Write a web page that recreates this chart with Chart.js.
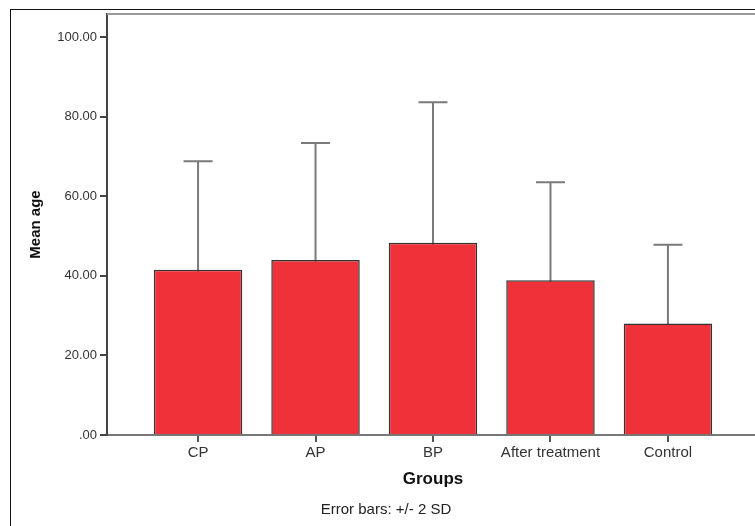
<!DOCTYPE html>
<html>
<head>
<meta charset="utf-8">
<script src="https://cdn.jsdelivr.net/npm/chart.js@4"></script>
<style>
  html, body { margin: 0; padding: 0; background: #fff; overflow: hidden; }
  #wrap { width: 770px; height: 526px; }
</style>
</head>
<body>
<div id="wrap"><canvas id="meanChart" width="770" height="526"></canvas></div>
<script>
// values
const categories = ['CP', 'AP', 'BP', 'After treatment', 'Control'];
const meanAge = [41.5, 44.0, 48.3, 38.9, 28.0];
const twoSD = [27.3, 29.4, 35.3, 24.6, 19.8];
const yTicks = [0, 20, 40, 60, 80, 100];

const FONT = 'Arial, "Liberation Sans", sans-serif';
const barRed = '#ef3139';

// draws the +/- 2 SD bars behind the columns, the top plot border and outer frame
const extras = {
  id: 'extras',
  beforeDatasetsDraw(chart) {
    const { ctx, scales: { x, y } } = chart;
    ctx.save();
    ctx.strokeStyle = '#7a7a7a';
    ctx.lineWidth = 2;
    meanAge.forEach((m, i) => {
      const px = x.getPixelForValue(i);
      const hi = y.getPixelForValue(m + twoSD[i]);
      const lo = y.getPixelForValue(m - twoSD[i]);
      ctx.beginPath();
      ctx.moveTo(px, lo); ctx.lineTo(px, hi);
      ctx.moveTo(px - 14.5, hi); ctx.lineTo(px + 14.5, hi);
      ctx.moveTo(px - 14.5, lo); ctx.lineTo(px + 14.5, lo);
      ctx.stroke();
    });
    ctx.restore();
  },
  afterDraw(chart) {
    const { ctx, chartArea: a } = chart;
    ctx.save();
    ctx.strokeStyle = '#999';
    ctx.lineWidth = 2;
    ctx.beginPath();
    ctx.moveTo(a.left, a.top); ctx.lineTo(a.right, a.top);
    ctx.stroke();
    ctx.strokeStyle = '#111';
    ctx.lineWidth = 1;
    ctx.strokeRect(10.5, 9.5, chart.width + 20, chart.height + 20);
    ctx.fillStyle = '#222';
    ctx.font = '15px ' + FONT;
    ctx.textAlign = 'center';
    ctx.textBaseline = 'middle';
    ctx.fillText('Error bars: +/- 2 SD', (a.left + a.right) / 2 - 47, 510);
    ctx.restore();
  }
};

new Chart(document.getElementById('meanChart'), {
  type: 'bar',
  data: {
    datasets: [{
      data: meanAge.map((m, i) => ({ x: i, y: m })),
      backgroundColor: barRed,
      borderColor: '#333',
      borderWidth: 1.5,
      barPercentage: 0.753,
      categoryPercentage: 1
    }]
  },
  options: {
    responsive: false,
    animation: false,
    layout: { padding: { top: 14, right: 11, left: 0, bottom: 0 } },
    plugins: { legend: { display: false }, tooltip: { enabled: false } },
    scales: {
      x: {
        type: 'linear',
        offset: false,
        min: -0.775,
        max: 4.775,
        afterBuildTicks: s => { s.ticks = categories.map((c, i) => ({ value: i })); },
        afterFit: s => { s.height = 91; },
        grid: { offset: false, drawOnChartArea: false, drawTicks: true, tickLength: 7, color: '#555', lineWidth: 2 },
        border: { display: true, color: '#777', width: 2 },
        ticks: {
          autoSkip: false, maxRotation: 0, padding: 2, color: '#333',
          font: { family: FONT, size: 15 },
          callback: v => categories[v]
        },
        title: {
          display: true, text: 'Groups', color: '#111',
          font: { family: FONT, size: 17, weight: 'bold' },
          padding: { top: 0, bottom: 36 }
        }
      },
      y: {
        min: 0,
        max: 105.8,
        afterBuildTicks: s => { s.ticks = yTicks.map(v => ({ value: v })); },
        afterFit: s => { s.width = 107; },
        grid: { drawOnChartArea: false, drawTicks: true, tickLength: 7, color: '#444', lineWidth: 2 },
        border: { display: true, color: '#444', width: 2 },
        ticks: {
          padding: 3, color: '#333',
          font: { family: FONT, size: 13 },
          callback: v => v === 0 ? '.00' : v.toFixed(2)
        },
        title: {
          display: true, text: 'Mean age', color: '#111',
          font: { family: FONT, size: 15, weight: 'bold' },
          padding: { top: 27, bottom: 0 }
        }
      }
    }
  },
  plugins: [extras]
});
</script>
</body>
</html>
